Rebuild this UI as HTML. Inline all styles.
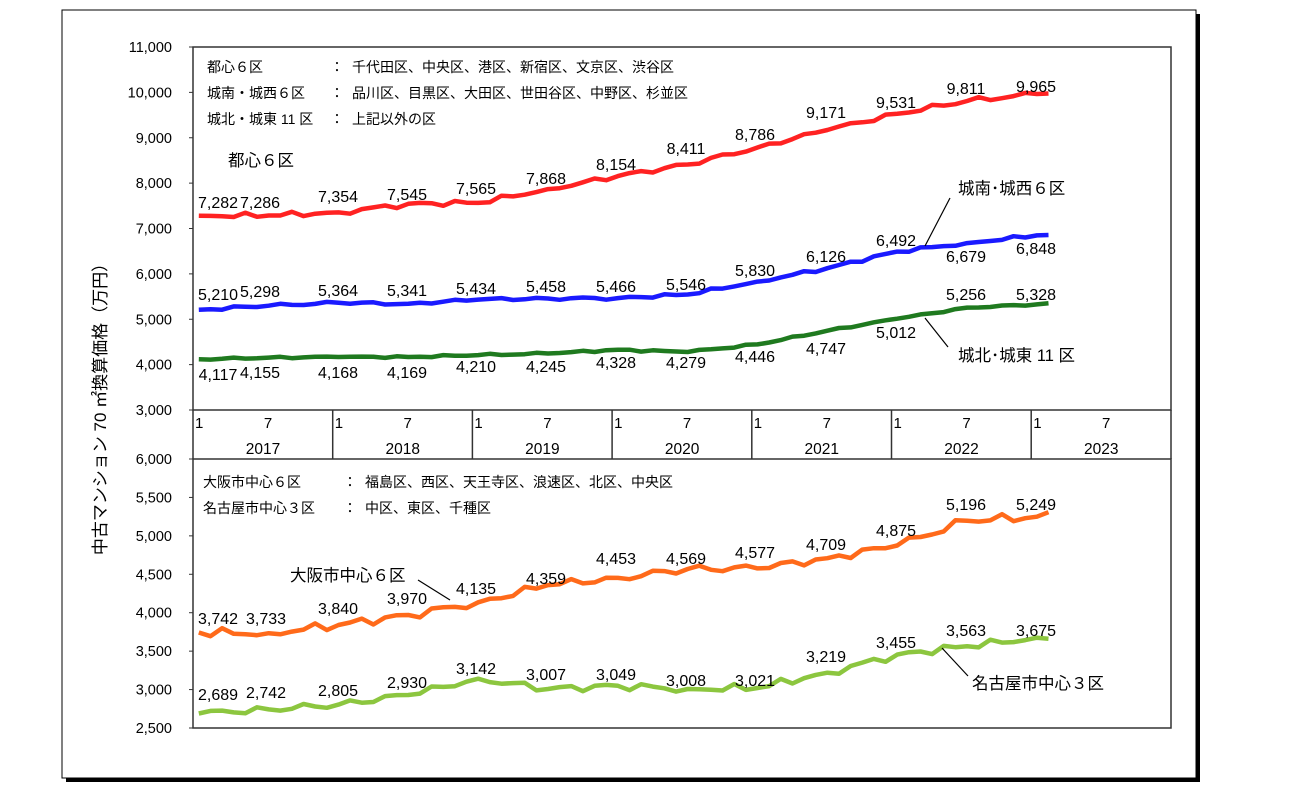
<!DOCTYPE html>
<html><head><meta charset="utf-8"><style>
html,body{margin:0;padding:0;background:#fff;}
svg{display:block;font-family:"Liberation Sans","Noto Sans CJK JP",sans-serif;}
</style></head><body>
<svg id="s" width="1316" height="800" xmlns="http://www.w3.org/2000/svg">
<rect x="66" y="14" width="1134" height="768" fill="#000"/>
<rect x="62" y="10" width="1134" height="768" fill="#fff" stroke="#000" stroke-width="1"/>
<g stroke="#333" stroke-width="1.5" fill="none">
<rect x="193" y="47" width="978" height="363"/>
<rect x="193" y="459" width="978" height="269"/>
<line x1="193" y1="410" x2="193" y2="459"/>
<line x1="1171" y1="410" x2="1171" y2="459"/>
</g>
<g id="g"></g>
<text transform="translate(106,405) rotate(-90)" text-anchor="middle" font-size="17">中古マンション 70 ㎡換算価格（万円）</text>
<g font-size="14">
<text x="207" y="72">都心６区</text><text x="330" y="72">：</text><text x="352" y="72">千代田区、中央区、港区、新宿区、文京区、渋谷区</text>
<text x="207" y="98">城南・城西６区</text><text x="330" y="98">：</text><text x="352" y="98">品川区、目黒区、大田区、世田谷区、中野区、杉並区</text>
<text x="207" y="124">城北・城東 11 区</text><text x="330" y="124">：</text><text x="352" y="124">上記以外の区</text>
<text x="203" y="487">大阪市中心６区</text><text x="343" y="487">：</text><text x="365" y="487">福島区、西区、天王寺区、浪速区、北区、中央区</text>
<text x="203" y="513">名古屋市中心３区</text><text x="343" y="513">：</text><text x="365" y="513">中区、東区、千種区</text>
</g>
<g font-size="16.5">
<text x="228" y="166">都心６区</text>
<text x="958" y="194">城南･城西６区</text>
<text x="958" y="361">城北･城東 11 区</text>
<text x="290" y="581">大阪市中心６区</text>
<text x="972" y="689">名古屋市中心３区</text>
</g>
<g stroke="#000" stroke-width="1.2">
<line x1="950" y1="198" x2="925" y2="246"/>
<line x1="948" y1="347" x2="925" y2="318"/>
<line x1="418" y1="580" x2="450" y2="600"/>
<line x1="968" y1="676" x2="942" y2="648"/>
</g>
</svg>
<script>
const g=document.getElementById('g');let h='';
const X=i=>193+11.64*(i+0.5);
const YT=v=>410-(v-3000)*363/8000;
const YB=v=>728-(v-2500)*269/3500;
for(let v=3000;v<=11000;v+=1000){const y=YT(v);h+=`<line x1="189" y1="${y}" x2="193" y2="${y}" stroke="#333"/><text x="172" y="${y+5}" font-size="14.5" text-anchor="end">${v.toLocaleString('en-US')}</text>`;}
for(let v=2500;v<=6000;v+=500){const y=YB(v);h+=`<line x1="189" y1="${y}" x2="193" y2="${y}" stroke="#333"/><text x="172" y="${y+5}" font-size="14.5" text-anchor="end">${v.toLocaleString('en-US')}</text>`;}
for(let k=0;k<7;k++){const x0=193+k*139.7;
 if(k>0)h+=`<line x1="${x0}" y1="410" x2="${x0}" y2="459" stroke="#333" stroke-width="1.5"/>`;
 h+=`<text x="${x0+2}" y="428" font-size="15">1</text><text x="${x0+75}" y="428" font-size="15" text-anchor="middle">7</text><text x="${x0+70}" y="454" font-size="15.5" text-anchor="middle">${2017+k}</text>`;}
function series(vals,Y,col,w,labs,seed,amp){
 let pts=[];
 for(let i=0;i<=73;i++){let k=Math.min(Math.floor(i/6),11),t=(i-k*6)/6;let v;
  if(i>=72)v=vals[12]+(i-72)*10;else v=vals[k]+(vals[k+1]-vals[k])*t;
  if(i%6!==0)v+=amp*(Math.sin(i*1.7+seed)+0.6*Math.sin(i*3.1+seed*2));
  pts.push(X(i).toFixed(1)+','+Y(v).toFixed(1));}
 h+=`<polyline points="${pts.join(' ')}" fill="none" stroke="${col}" stroke-width="${w}" stroke-linejoin="round"/>`;
 labs.forEach((l,j)=>{h+=`<text x="${l[0]}" y="${l[1]}" font-size="16" text-anchor="middle">${vals[j].toLocaleString('en-US')}</text>`;});
}
const cx=[218,260,338,407,476,546,616,686,755,826,896,966,1036];
const mk=ys=>cx.map((x,i)=>[x,ys[i]]);
series([7282,7286,7354,7545,7565,7868,8154,8411,8786,9171,9531,9811,9965],YT,'#ff2222',4.5,
 mk([208,208,202,200,194,184,170,154,140,118,108,94,92]),1,40);
series([5210,5298,5364,5341,5434,5458,5466,5546,5830,6126,6492,6679,6848],YT,'#1a1aff',4.5,
 mk([300,297,296,296,294,292,292,290,276,262,246,262,254]),2,25);
series([4117,4155,4168,4169,4210,4245,4328,4279,4446,4747,5012,5256,5328],YT,'#1f7a1f',4.5,
 mk([380,378,378,378,372,372,368,368,362,354,338,300,300]),3,15);
series([3742,3733,3840,3970,4135,4359,4453,4569,4577,4709,4875,5196,5249],YB,'#ff6a1a',4.5,
 [[218,624],[266,624],[338,614],[407,604],[476,594],[546,584],[616,564],[686,564],[755,558],[826,550],[896,536],[966,510],[1036,510]],4,40);
series([2689,2742,2805,2930,3142,3007,3049,3008,3021,3219,3455,3563,3675],YB,'#8cc63f',4.5,
 [[218,700],[266,698],[338,696],[407,688],[476,674],[546,680],[616,680],[686,686],[755,686],[826,662],[896,648],[966,636],[1036,636]],5,35);
g.innerHTML=h;
</script>
</body></html>
